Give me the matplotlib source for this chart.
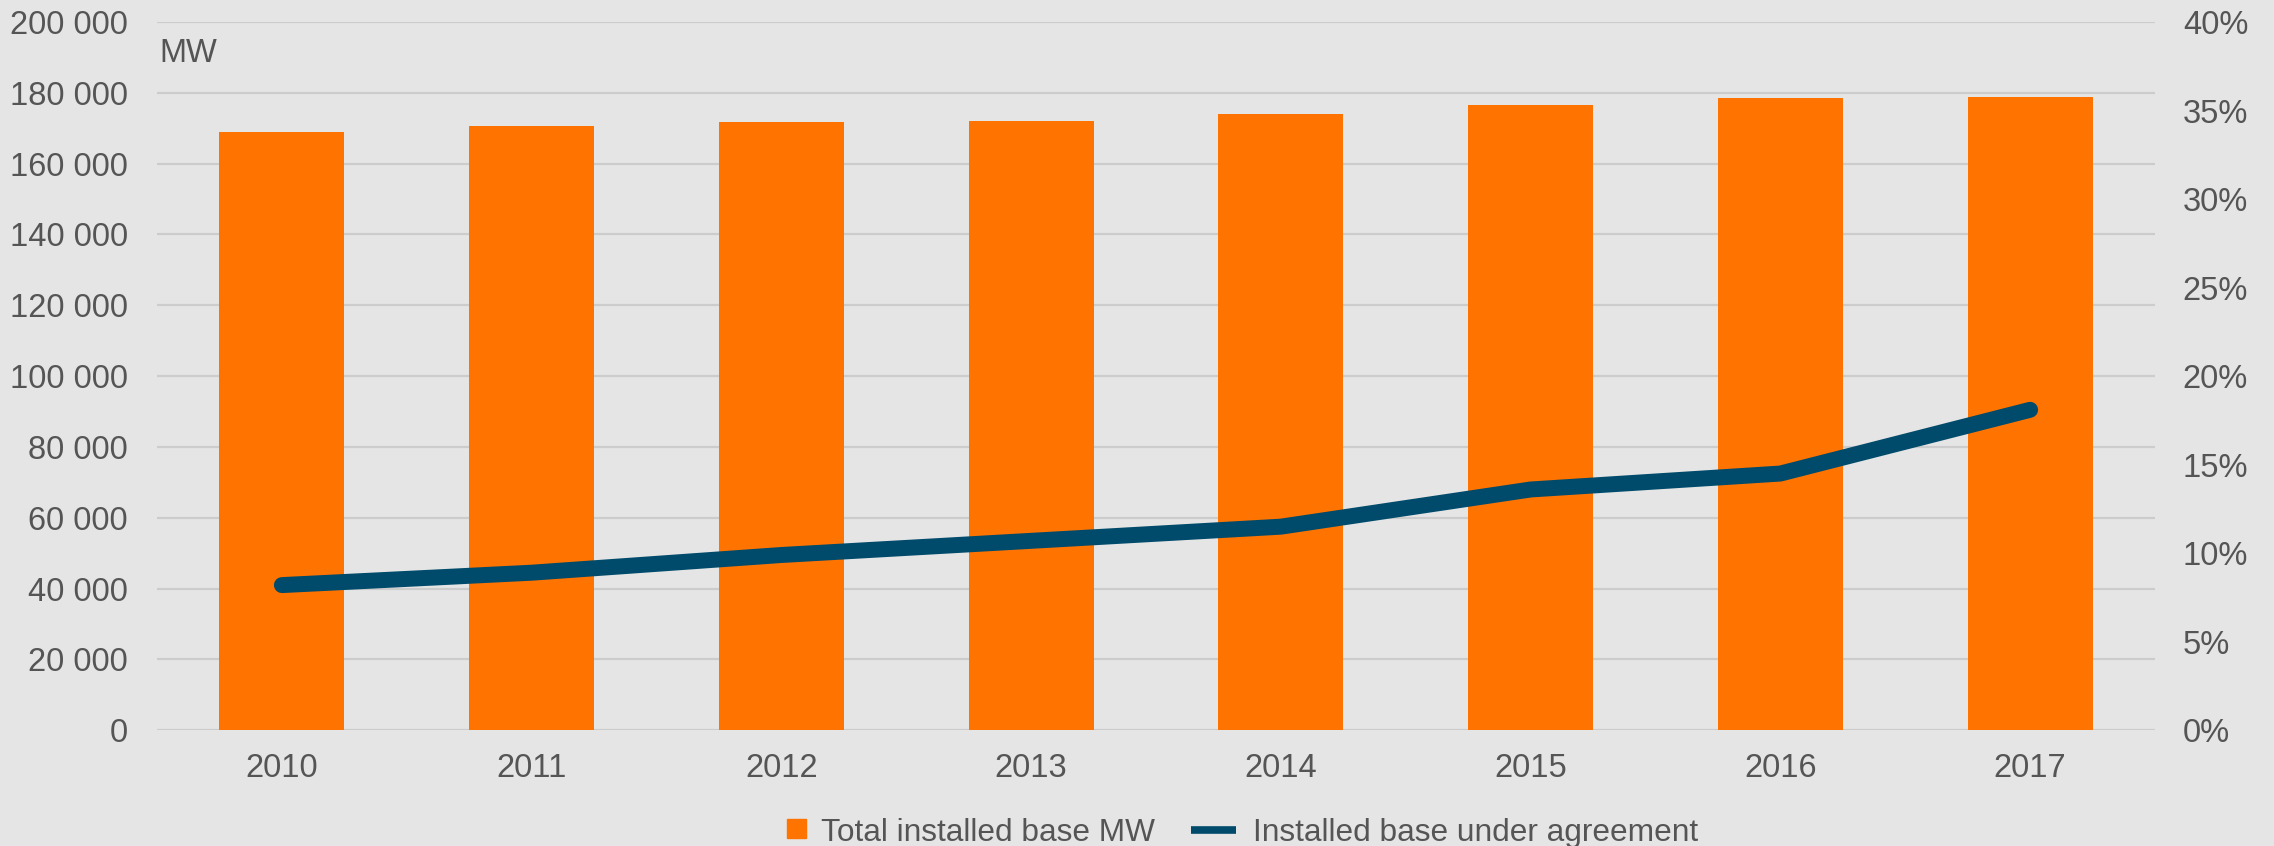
import matplotlib
matplotlib.use("Agg")
import matplotlib.pyplot as plt
from matplotlib.patches import Rectangle, Patch
from matplotlib.lines import Line2D
from matplotlib.legend_handler import HandlerPatch
from matplotlib.ticker import FuncFormatter, MultipleLocator

# data
years = ["2010", "2011", "2012", "2013", "2014", "2015", "2016", "2017"]
total_mw = [168900, 170700, 171800, 172100, 174100, 176600, 178500, 178800]
share_agreement = [8.2, 8.9, 9.9, 10.7, 11.5, 13.6, 14.5, 18.1]

ORANGE = "#FF7300"
NAVY = "#004B6B"
BG = "#E5E5E5"
GRID = "#CCCCCC"
TXT = "#555555"
FS = 23.5
LEG_FS = 22.8

plt.rcParams["font.family"] = ["Liberation Sans", "DejaVu Sans"]
plt.rcParams["text.color"] = TXT

fig = plt.figure(figsize=(22.74, 8.46), dpi=100, facecolor=BG)
ax = fig.add_axes([157 / 2274, 115.7 / 846, 1998 / 2274, 708.3 / 846])
ax.set_facecolor(BG)

x = list(range(len(years)))
ax.bar(x, total_mw, width=0.5, color=ORANGE, zorder=2)
ax.set_xlim(-0.5, len(years) - 0.5)
ax.set_ylim(0, 200000)
ax.yaxis.set_major_locator(MultipleLocator(20000))
ax.yaxis.set_major_formatter(FuncFormatter(lambda v, p: f"{v:,.0f}".replace(",", " ")))
ax.set_xticks(x)
ax.set_xticklabels(years)
ax.set_axisbelow(True)
ax.grid(axis="y", color=GRID, linewidth=1.6)
for s in ax.spines.values():
    s.set_visible(False)
ax.tick_params(axis="y", length=0, pad=21, labelsize=FS, labelcolor=TXT)
ax.tick_params(axis="x", length=0, pad=16, labelsize=FS, labelcolor=TXT)

ax.text(0.001, 0.943, "MW", transform=ax.transAxes, fontsize=FS,
        ha="left", va="baseline", color=TXT)

# share of installed base under agreement, right axis
ax2 = ax.twinx()
ax2.plot(x, share_agreement, color=NAVY, linewidth=11.5,
         solid_capstyle="round", solid_joinstyle="round", zorder=3)
ax2.set_ylim(0, 40)
ax2.yaxis.set_major_locator(MultipleLocator(5))
ax2.yaxis.set_major_formatter(FuncFormatter(lambda v, p: f"{v:.0f}%"))
for s in ax2.spines.values():
    s.set_visible(False)
ax2.tick_params(axis="y", length=0, pad=20, labelsize=FS, labelcolor=TXT)


def square_patch(legend, orig_handle, xdescent, ydescent, width, height, fontsize):
    sq = 13.7
    return Rectangle((-xdescent + width - sq + 1.8, -ydescent + (height - sq) / 2 + 1), sq, sq)


handles = [Patch(color=ORANGE),
           Line2D([0], [0], color=NAVY, linewidth=5.5, solid_capstyle="butt")]
labels = ["Total installed base MW", "Installed base under agreement"]
fig.legend(handles, labels, loc="center left",
           bbox_to_anchor=(758.5 / 2274, 1 - 833 / 846),
           ncol=2, frameon=False, fontsize=LEG_FS, borderpad=0, borderaxespad=0,
           handlelength=1.42, handletextpad=0.54, columnspacing=1.14,
           handler_map={Patch: HandlerPatch(patch_func=square_patch)})

fig.savefig("out.png", dpi=100, facecolor=BG)
